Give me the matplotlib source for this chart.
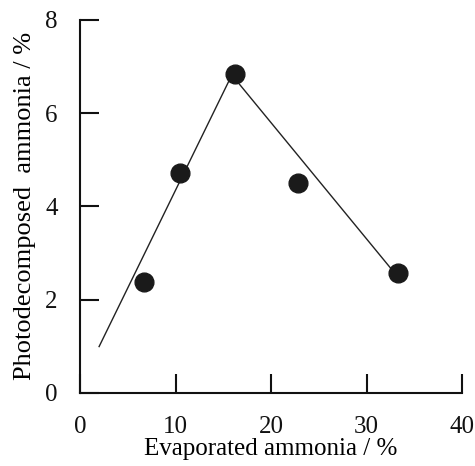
import matplotlib
matplotlib.use("Agg")
import matplotlib.pyplot as plt

# Data
evap = [6.7, 10.5, 16.2, 22.8, 33.3]
photo = [2.37, 4.71, 6.85, 4.51, 2.57]
line_x = [2.0, 15.9, 33.3]
line_y = [0.99, 6.82, 2.48]
xticks = [0, 10, 20, 30, 40]
yticks = [0, 2, 4, 6, 8]

plt.rcParams['font.family'] = ['Liberation Serif', 'DejaVu Serif']

fig = plt.figure(figsize=(4.75, 4.66), dpi=100)
ax = fig.add_axes([80/475, 1-392.7/466, (462-80)/475, (392.7-20)/466])

ax.plot(line_x, line_y, color='#222222', lw=1.0, zorder=2)
ax.plot(evap, photo, 'o', color='#1a1a1a', ms=13.5, zorder=3)

ax.set_xlim(0, 40)
ax.set_ylim(0, 8)
ax.set_xticks(xticks)
ax.set_yticks(yticks)
for s in ['top', 'right']:
    ax.spines[s].set_visible(False)
for s in ['left', 'bottom']:
    ax.spines[s].set_linewidth(1.5)
    ax.spines[s].set_color('#111111')
ax.tick_params(axis='both', direction='in', length=13.5, width=1.5, colors='#111111', labelsize=18)
ax.tick_params(axis='x', pad=17)
ax.tick_params(axis='y', pad=16)
ax.set_xlabel('Evaporated ammonia / %', fontsize=18, labelpad=0)
ax.set_ylabel('Photodecomposed  ammonia / %', fontsize=19, labelpad=7)

fig.savefig('out.png', dpi=100)
